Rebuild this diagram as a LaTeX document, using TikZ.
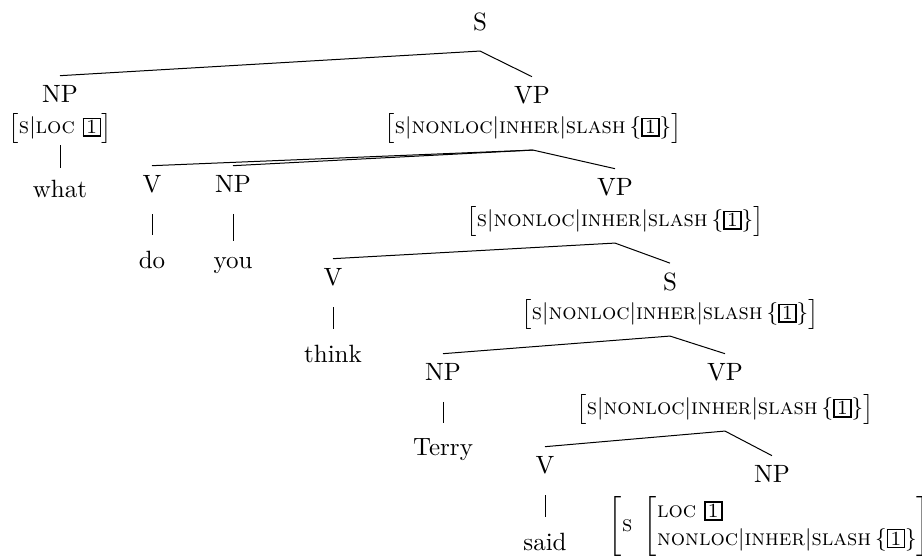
\documentclass[tikz,border=0pt]{standalone}
\usepackage{tikz}

\newcommand{\tagnum}[1]{{\setlength{\fboxrule}{0.6pt}\setlength{\fboxsep}{0.6pt}\fbox{\makebox[5pt]{\footnotesize #1}}}}
\newcommand{\slashval}{$\bigl[\textsc{s}|\textsc{nonloc}|\textsc{inher}|\textsc{slash}\,\{\tagnum{1}\}\bigr]$}

\begin{document}
\begin{tikzpicture}
  [
  x=0.4pt, y=-0.4pt, line width=0.4pt, draw=black,
  cat/.style={anchor=base, inner sep=3.5pt},
  avm/.style={font=\small, inner sep=2.5pt},
  word/.style={anchor=base, inner sep=3.5pt},
  bar/.style={shorten <=5pt, shorten >=2.5pt},
  ]
\useasboundingbox (0,0) rectangle (922,555);

\node[cat, inner ysep=8pt] (s0) at (480,30) {S};

\node[cat] (np1) at (60,102) {NP};
\node[avm] (np1f) at (60,128) {$\bigl[\textsc{s}|\textsc{loc}\ \tagnum{1}\bigr]$};
\node[word] (what) at (60,197) {what};

\node[cat] (vp1) at (532,103) {VP};
\node[avm] (vp1f) at (533,128) {\slashval};

\node[cat] (v2) at (152,192) {V};
\node[word] (do) at (152,268) {do};
\node[cat] (np2) at (233,192) {NP};
\node[word] (you) at (233,268) {you};

\node[cat] (vp2) at (615,195) {VP};
\node[avm] (vp2f) at (615,221) {\slashval};

\node[cat] (v3) at (333,285) {V};
\node[word] (think) at (333,362) {think};

\node[cat] (s3) at (670,290) {S};
\node[avm] (s3f) at (670,314) {\slashval};

\node[cat] (np4) at (443,380) {NP};
\node[word] (terry) at (443,455) {Terry};

\node[cat] (vp4) at (725,380) {VP};
\node[avm] (vp4f) at (725,409) {\slashval};

\node[cat] (v5) at (545,473) {V};
\node[word] (said) at (545,550) {said};

\node[cat] (np5) at (772,482) {NP};
\node[avm] (np5f) at (776,526) {$\left[\textsc{s}\ \left[\begin{array}{@{}l@{}}
  \textsc{loc}\ \tagnum{1}\\
  \textsc{nonloc}|\textsc{inher}|\textsc{slash}\,\{\tagnum{1}\}
  \end{array}\right]\right]$};

\draw (s0.south) -- (np1.north);
\draw (s0.south) -- (vp1.north);
\draw (vp1f.south) -- (v2.north);
\draw (vp1f.south) -- (np2.north);
\draw (vp1f.south) -- (vp2.north);
\draw (vp2f.south) -- (v3.north);
\draw (vp2f.south) -- (s3.north);
\draw (s3f.south) -- (np4.north);
\draw (s3f.south) -- (vp4.north);
\draw (vp4f.south) -- (v5.north);
\draw (vp4f.south) -- (np5.north);

\foreach \a/\b in {v2/do, np2/you, v3/think, np4/terry, v5/said} {
  \draw[bar] (\a.south) -- (\b.north);
}
\draw[shorten <=-2pt, shorten >=1pt] (np1f.south) -- (what.north);
\end{tikzpicture}
\end{document}
